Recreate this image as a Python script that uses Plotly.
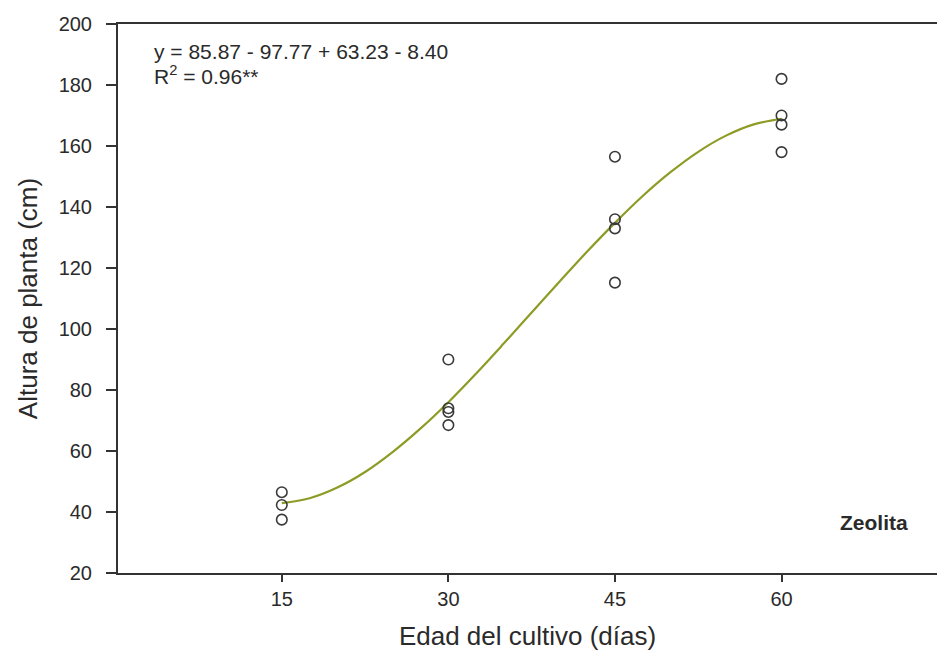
import plotly.graph_objects as go

# Observed data (días, altura cm)
x_obs = [15, 15, 15, 30, 30, 30, 30, 45, 45, 45, 45, 60, 60, 60, 60]
y_obs = [46.5, 42.3, 37.5, 90.0, 74.0, 72.8, 68.5, 156.5, 136.0, 133.0, 115.2, 182.0, 170.0, 167.0, 158.0]

# Fitted curve
x_fit = [15, 17.5, 20, 22.5, 25, 27.5, 30, 32.5, 35, 37.5, 40, 42.5, 45, 47.5, 50, 52.5, 55, 57.5, 60]
y_fit = [42.9, 44.5, 48.0, 53.1, 59.7, 67.4, 76.0, 85.4, 95.3, 105.4, 115.5, 125.4, 134.8, 143.6,
         151.4, 158.1, 163.4, 167.1, 168.9]

x_ticks = [15, 30, 45, 60]
y_ticks = [20, 40, 60, 80, 100, 120, 140, 160, 180, 200]

FONT = "Liberation Sans, Arial, sans-serif"

fig = go.Figure()
fig.add_trace(go.Scatter(
    x=x_fit, y=y_fit, mode="lines", line=dict(color="#8E9B25", width=2.2, shape="spline"),
    showlegend=False, hoverinfo="skip"))
fig.add_trace(go.Scatter(
    x=x_obs, y=y_obs, mode="markers",
    marker=dict(symbol="circle-open", size=10.5, color="#3a3a3a", line=dict(width=1.6, color="#3a3a3a")),
    showlegend=False))

fig.update_layout(
    width=937, height=660,
    margin=dict(l=118, r=0, t=24, b=87),
    paper_bgcolor="white", plot_bgcolor="white",
    font=dict(family=FONT, color="#2a2a2a"),
    xaxis=dict(
        range=[0.25, 74], tickvals=x_ticks, ticks="outside", ticklen=7, tickwidth=1.5, tickcolor="#333",
        showline=True, linecolor="#333", linewidth=2, mirror=True, showgrid=False, zeroline=False,
        tickfont=dict(size=20, color="#2a2a2a"),
        title=dict(text="Edad del cultivo (días)", font=dict(size=26, color="#2a2a2a"), standoff=18),
    ),
    yaxis=dict(
        range=[20, 200], tickvals=y_ticks, ticks="outside", ticklen=10, tickwidth=1.5, tickcolor="#333",
        showline=True, linecolor="#333", linewidth=2, showgrid=False, zeroline=False,
        tickfont=dict(size=20, color="#2a2a2a"), ticklabelstandoff=10,
        title=dict(text="Altura de planta (cm)", font=dict(size=26, color="#2a2a2a"), standoff=14),
    ),
    annotations=[
        dict(xref="paper", yref="paper", x=(152 - 118) / 819, y=(573 - 52) / 549,
             xanchor="left", yanchor="middle", align="left", showarrow=False,
             text="y = 85.87 - 97.77 + 63.23 - 8.40",
             font=dict(size=21, color="#2a2a2a", family=FONT)),
        dict(xref="paper", yref="paper", x=(152 - 118) / 819, y=(573 - 75) / 549,
             xanchor="left", yanchor="middle", align="left", showarrow=False,
             text="R<sup>2</sup> = 0.96**",
             font=dict(size=21, color="#2a2a2a", family=FONT)),
        dict(xref="paper", yref="paper", x=(874 - 118) / 819, y=(573 - 522) / 549,
             xanchor="center", yanchor="middle", showarrow=False,
             text="<b>Zeolita</b>", font=dict(size=21, color="#2a2a2a", family=FONT)),
    ],
)

fig.write_html("out.html")
